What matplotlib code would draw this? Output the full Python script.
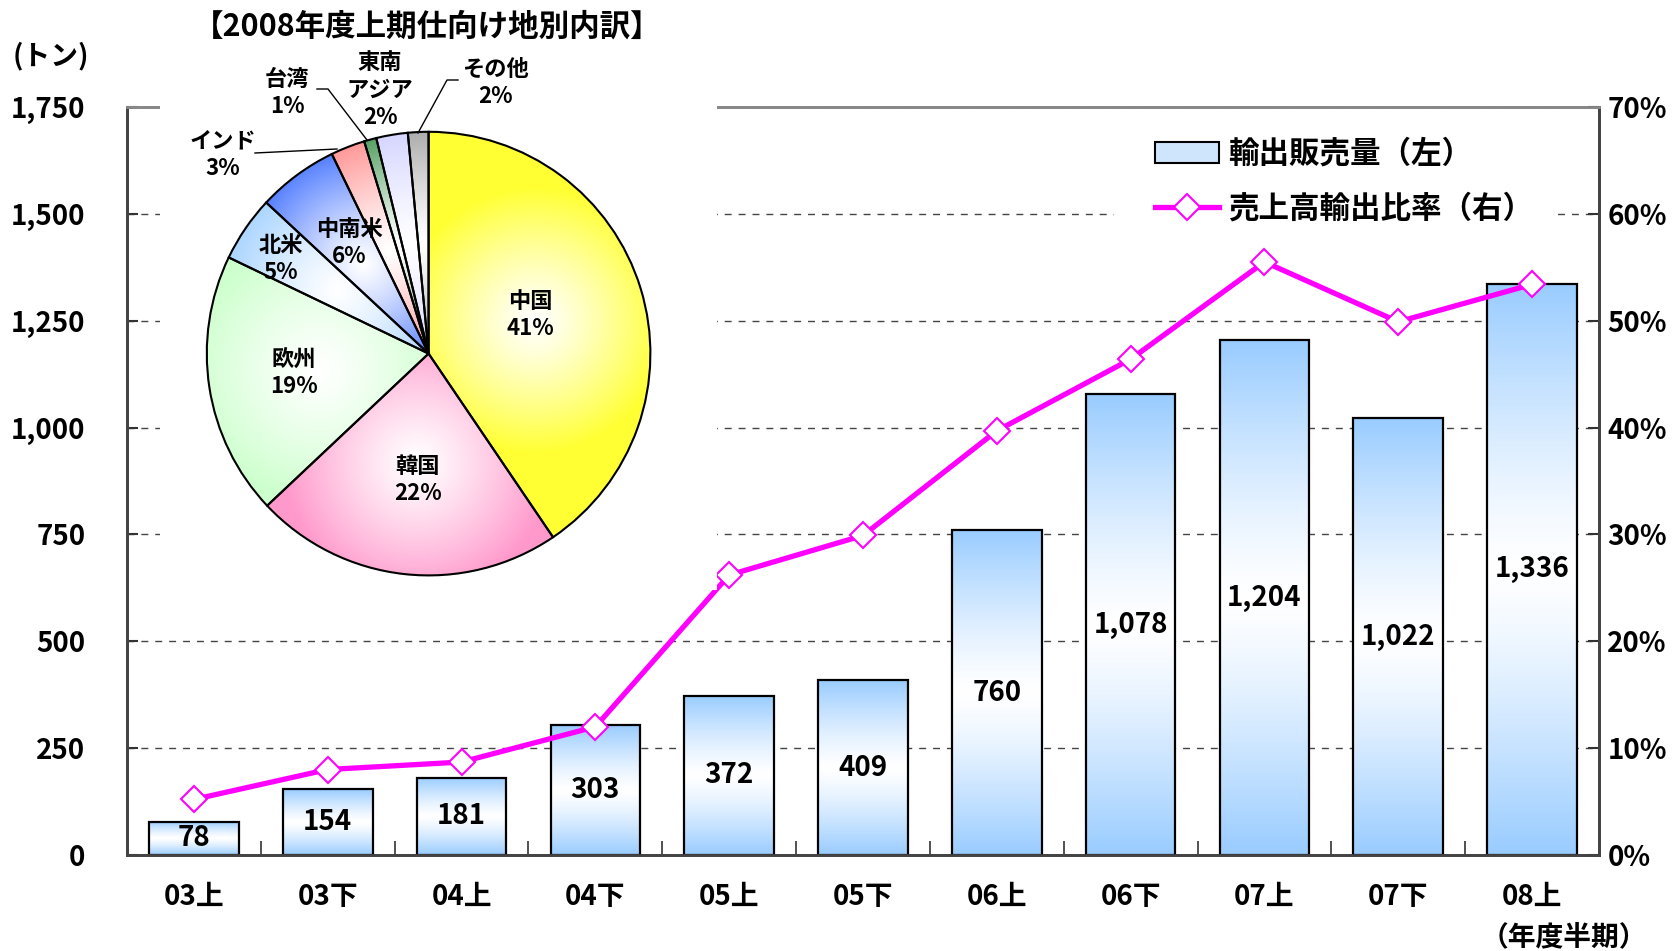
import numpy as np
import matplotlib
matplotlib.use('Agg')
import matplotlib.pyplot as plt
from matplotlib.patches import Rectangle, Patch
from matplotlib.lines import Line2D
from matplotlib.colors import to_rgb

plt.rcParams['font.family'] = ['Noto Sans CJK JP', 'DejaVu Sans']
plt.rcParams['font.weight'] = 'bold'

# bar + line data
periods = ['03上', '03下', '04上', '04下', '05上', '05下', '06上', '06下', '07上', '07下', '08上']
volume = [78, 154, 181, 303, 372, 409, 760, 1078, 1204, 1022, 1336]
export_ratio = [5.2, 8.0, 8.7, 12.0, 26.2, 29.9, 39.7, 46.4, 55.5, 49.9, 53.4]

regions = ['中国', '韓国', '欧州', '北米', '中南米', 'インド', '台湾', '東南\nアジア', 'その他']
shares = [40.6, 22.5, 19.2, 4.8, 5.9, 2.5, 0.9, 2.3, 1.5]
share_labels = [41, 22, 19, 5, 6, 3, 1, 2, 2]
pie_colors = ['#FFFF33', '#FF99CC', '#CCFFCC', '#99CCFF', '#3366FF',
              '#FF8080', '#2E8B3E', '#CCCCFF', '#999999']

W, H = 1680, 951
fig = plt.figure(figsize=(W / 100, H / 100), dpi=100)

ax = fig.add_axes([127 / W, 1 - 855 / H, (1599 - 127) / W, (855 - 107) / H])
x = np.arange(len(periods))
bw = 0.67

# bars with vertical gradient (blue - white - blue)
blue = np.array(to_rgb('#99CCFF'))
white = np.ones(3)
fy = np.linspace(0, 1, 200)
t = np.clip(np.abs(fy - 0.5) * 2, 0, 1) ** 1.3
grad = (white[None, :] * (1 - t[:, None]) + blue[None, :] * t[:, None])[:, None, :]
for xi, v in zip(x, volume):
    ax.imshow(grad, extent=[xi - bw / 2, xi + bw / 2, 0, v], origin='lower',
              aspect='auto', zorder=2, interpolation='bilinear')
ax.bar(x, volume, width=bw, facecolor='none', edgecolor='black', linewidth=1.6, zorder=3)
for xi, v in zip(x, volume):
    ax.text(xi, v / 2, f'{v:,}', ha='center', va='center', fontsize=20, zorder=4)

ax.set_xlim(-0.5, len(periods) - 0.5)
ax.set_ylim(0, 1750)
ax.set_yticks(range(0, 1751, 250))
ax.set_yticklabels([f'{v:,}' for v in range(0, 1751, 250)])
ax.set_xticks(x)
ax.set_xticklabels(periods)
ax.set_xticks(np.arange(0.5, len(periods) - 0.5, 1), minor=True)
ax.tick_params(axis='x', which='major', length=0, pad=20, labelsize=20)
ax.tick_params(axis='x', which='minor', direction='in', length=10, width=1.2, color='#333333')
ax.tick_params(axis='y', direction='in', length=8, width=1.5, pad=30, labelsize=20, color='#333333')
ax.set_axisbelow(True)
ax.yaxis.grid(True, linestyle=(0, (5, 5)), color='#444444', linewidth=1)
for s in ax.spines.values():
    s.set_color('#444444')
    s.set_linewidth(2)
ax.spines['top'].set_color('#888888')

# white box behind legend
ax.add_patch(Rectangle((1114 / W, 1 - 235 / H), (1558 - 1114) / W, 110 / H,
                       transform=fig.transFigure, facecolor='white', edgecolor='none', zorder=5))

ax2 = ax.twinx()
ax2.plot(x, export_ratio, color='#FF00FF', linewidth=3.8, marker='D', markersize=13.5,
         markerfacecolor='white', markeredgecolor='#FF00FF', markeredgewidth=1.5, zorder=5)
ax2.set_ylim(0, 70)
ax2.set_yticks(range(0, 71, 10))
ax2.set_yticklabels([f'{v}%' for v in range(0, 71, 10)])
ax2.tick_params(axis='y', direction='in', length=8, width=1.5, pad=6, labelsize=20, color='#333333')
for s in ax2.spines.values():
    s.set_color('#444444')
    s.set_linewidth(2)
ax2.spines['top'].set_color('#888888')

handles = [Patch(facecolor='#cfe5fc', edgecolor='black', linewidth=1.5),
           Line2D([], [], color='#FF00FF', linewidth=3.8, marker='D', markersize=13.5,
                  markerfacecolor='white', markeredgecolor='#FF00FF', markeredgewidth=1.5)]
ax2.legend(handles, ['輸出販売量（左）', '売上高輸出比率（右）'], loc='upper left',
           bbox_to_anchor=(1155 / W, 1 - 138 / H), bbox_transform=fig.transFigure,
           frameon=False, fontsize=22, handlelength=2.1, handletextpad=0.3,
           labelspacing=0.75, borderpad=0, borderaxespad=0)

fig.text(13 / W, 1 - 56 / H, '(トン)', ha='left', va='center', fontsize=20)
fig.text(1564 / W, 1 - 937 / H, '（年度半期）', ha='center', va='center', fontsize=20)

# inset pie with its white box
axp = fig.add_axes([160 / W, 1 - 590 / H, (717 - 160) / W, 590 / H])
cx, cy, R = 428.6, H - 353.6, 221.8
wedges, _ = axp.pie(shares, center=(cx, cy), radius=R, startangle=90, counterclock=False,
                    wedgeprops=dict(edgecolor='black', linewidth=1.5))
axp.set_aspect('auto')
axp.add_patch(Rectangle((160, H - 590), 557, 590, facecolor='white', edgecolor='none', zorder=0))

gx, gy = np.meshgrid(np.linspace(cx - R, cx + R, 300), np.linspace(cy - R, cy + R, 300))
for w, c in zip(wedges, pie_colors):
    mid = np.deg2rad((w.theta1 + w.theta2) / 2)
    lx, ly = cx + 0.5 * R * np.cos(mid), cy + 0.5 * R * np.sin(mid)
    d = np.hypot(gx - lx, gy - ly)
    tt = np.clip(d / (0.6 * R), 0, 1) ** 1.2
    col = np.array(to_rgb(c))
    img = white[None, None, :] * (1 - tt[..., None]) + col[None, None, :] * tt[..., None]
    im = axp.imshow(img, extent=[cx - R, cx + R, cy - R, cy + R], origin='lower',
                    aspect='auto', zorder=1, interpolation='bilinear')
    im.set_clip_path(w)
    w.set_facecolor('none')
    w.set_zorder(2)
axp.set_xlim(160, 717)
axp.set_ylim(H - 590, H)

label_pos = [(530, 636), (418, 471), (294, 578), (281, 692), (349, 708),
             (223, 796), (287, 858), (380, 861), (495, 868)]
for name, sh, (px, py) in zip(regions, share_labels, label_pos):
    axp.text(px, py, f'{name}\n{sh}%', ha='center', va='center', fontsize=16,
             linespacing=1.25, zorder=4)

leaders = [([255, 337], [798, 802]),
           ([317, 328, 367], [862, 862, 811]),
           ([458, 447, 418], [871, 871, 818])]
for lxs, lys in leaders:
    axp.plot(lxs, lys, color='black', linewidth=1, zorder=3)

fig.text(427 / W, 1 - 27 / H, '【2008年度上期仕向け地別内訳】', ha='center', va='center', fontsize=22)

fig.savefig('out.png', dpi=100)
